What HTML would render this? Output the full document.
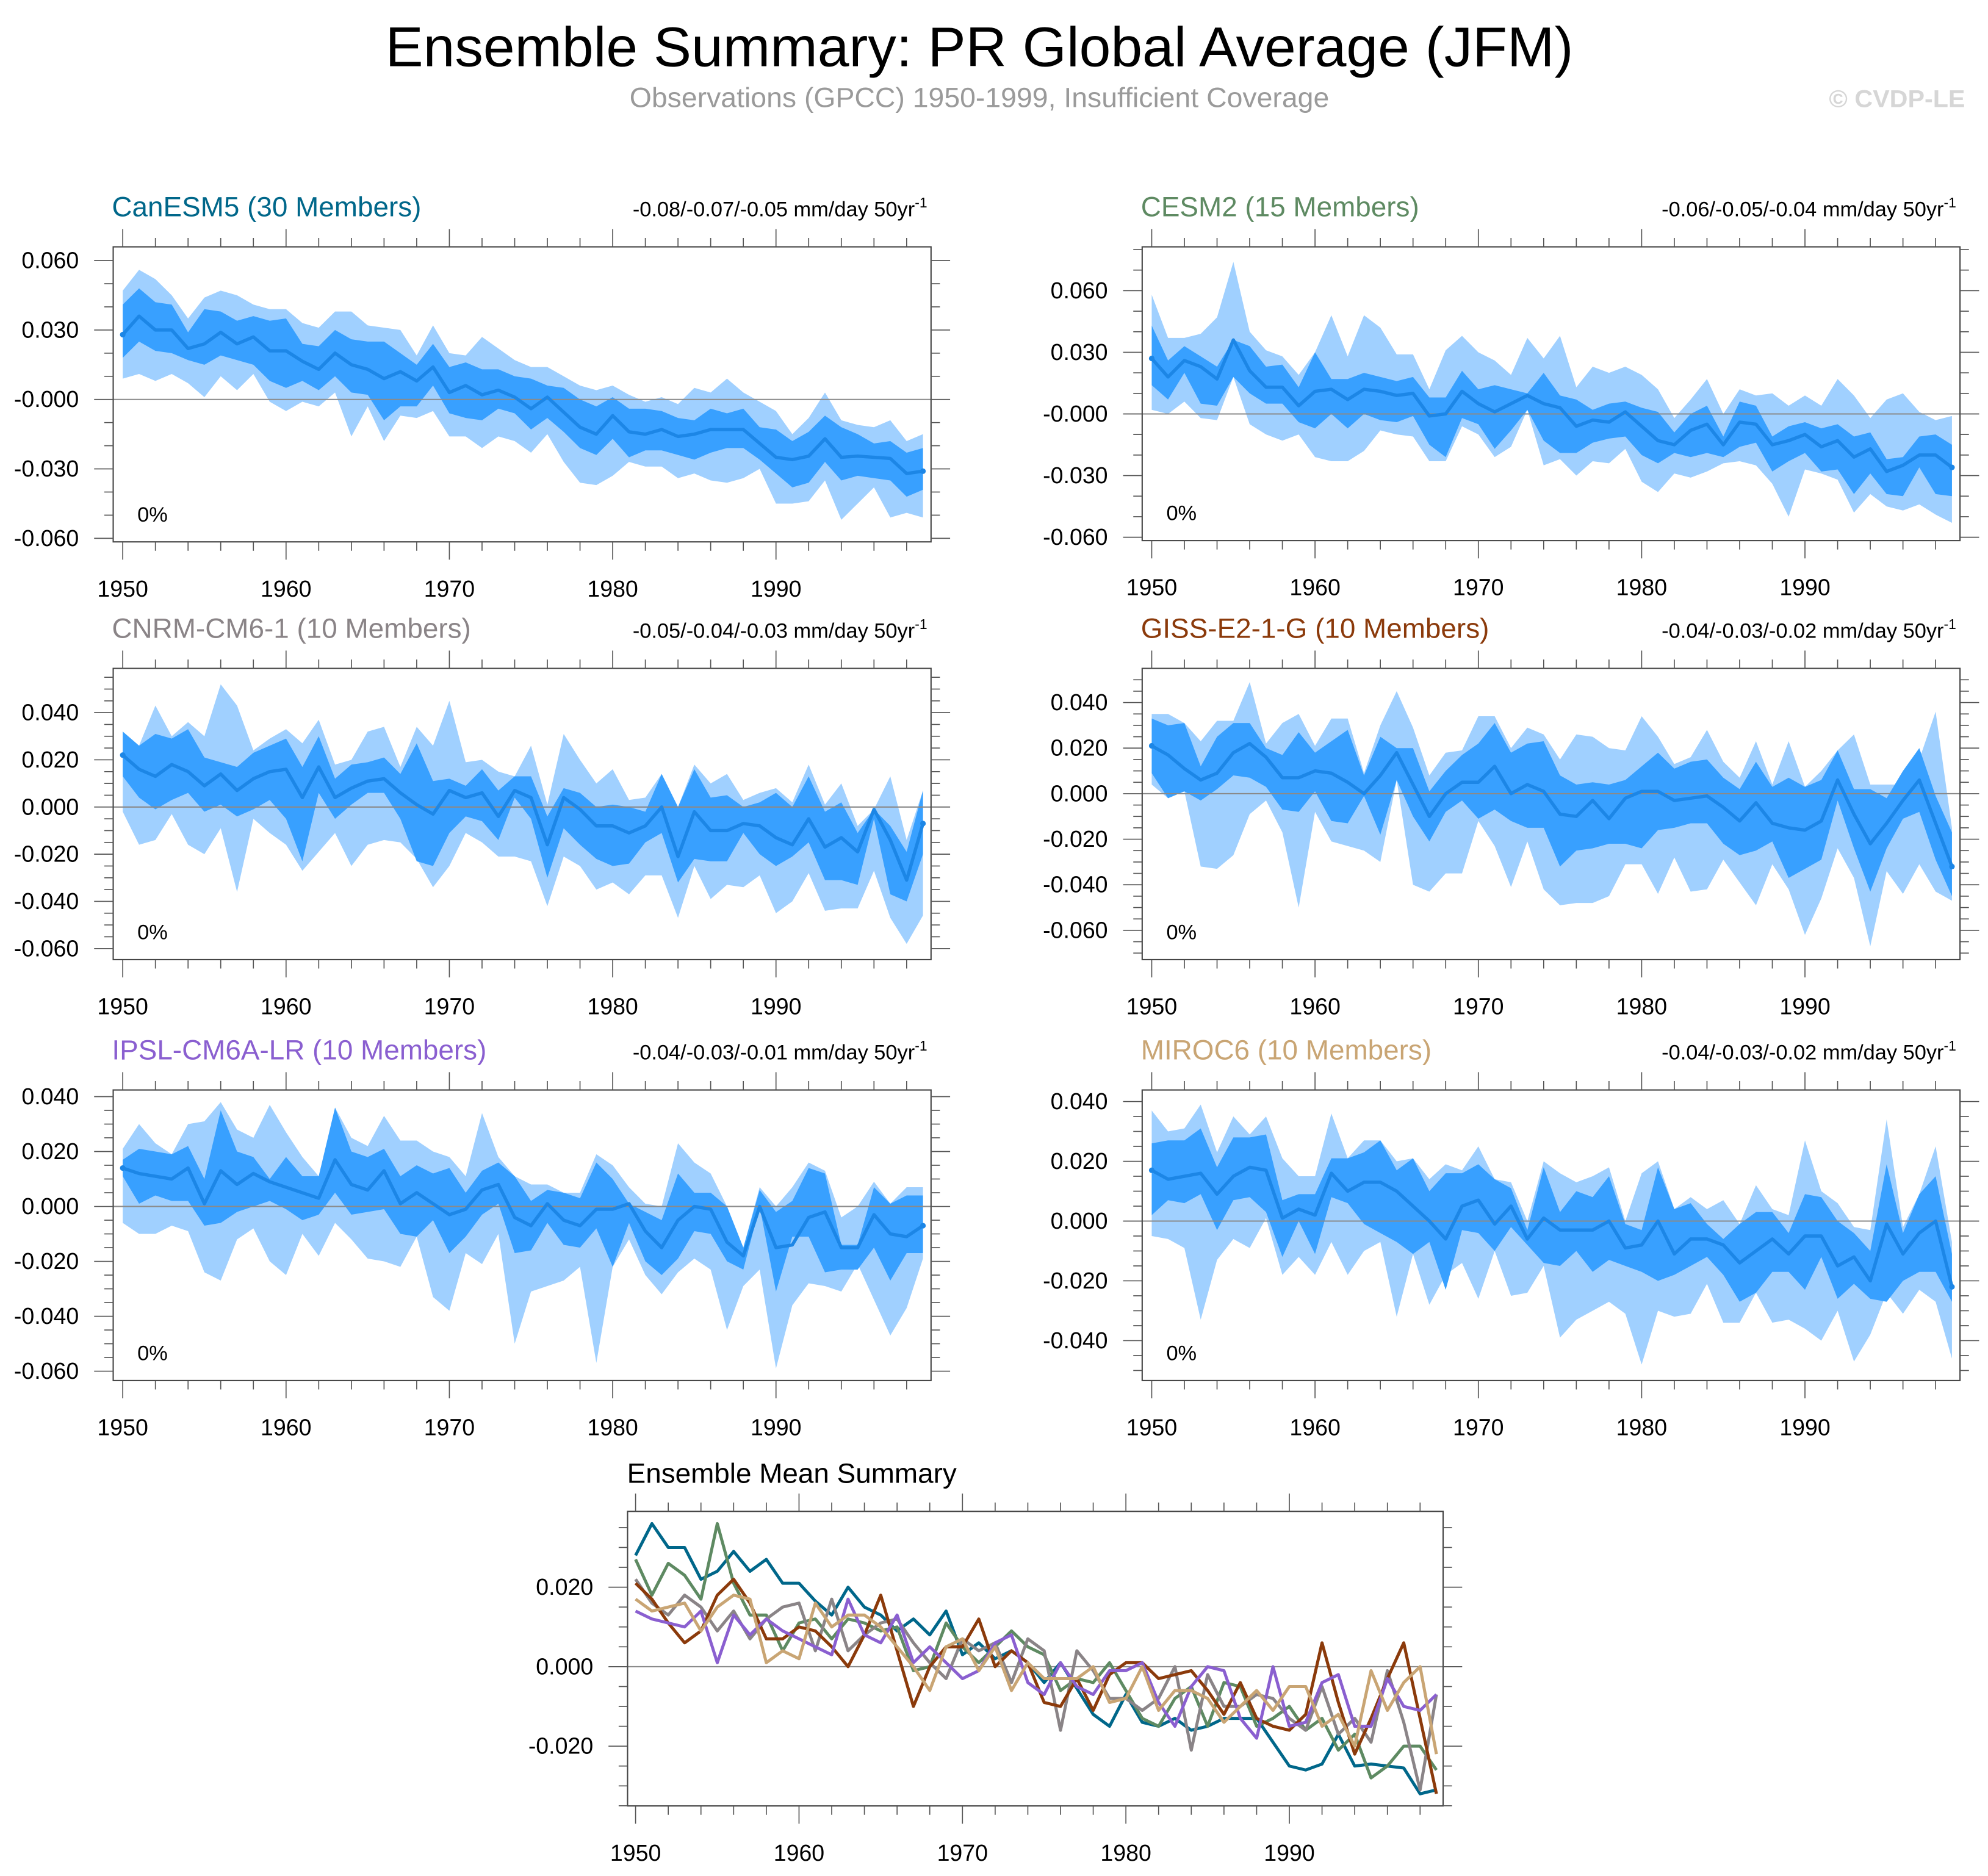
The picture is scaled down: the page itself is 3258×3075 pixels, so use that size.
<!DOCTYPE html>
<html><head><meta charset="utf-8"><title>Ensemble Summary: PR Global Average (JFM)</title>
<style>
html,body{margin:0;padding:0;background:#fff;}
svg{display:block;font-family:"Liberation Sans",Arial,sans-serif;}
</style></head>
<body>
<svg id="chart" xmlns="http://www.w3.org/2000/svg" width="3258" height="3075" viewBox="0 0 1563 1475">
<rect x="0" y="0" width="1563" height="1475" fill="#ffffff"/>
<text x="770" y="52" text-anchor="middle" font-size="44" textLength="934" lengthAdjust="spacingAndGlyphs" fill="#000">Ensemble Summary: PR Global Average (JFM)</text>
<text x="770" y="84" text-anchor="middle" font-size="22" textLength="550" lengthAdjust="spacingAndGlyphs" fill="#9a9a9a">Observations (GPCC) 1950-1999, Insufficient Coverage</text>
<text x="1545" y="84" text-anchor="end" font-size="19" textLength="107" lengthAdjust="spacingAndGlyphs" font-weight="bold" fill="#d6d6d6">© CVDP-LE</text>
<g id="panels"></g>
</svg>
<script>
// values in units of 0.001 mm/day
const years = [1950,1951,1952,1953,1954,1955,1956,1957,1958,1959,1960,1961,1962,1963,1964,1965,1966,1967,1968,1969,1970,1971,1972,1973,1974,1975,1976,1977,1978,1979,1980,1981,1982,1983,1984,1985,1986,1987,1988,1989,1990,1991,1992,1993,1994,1995,1996,1997,1998,1999];
const xTickYears = [1950,1960,1970,1980,1990];
const xTickLabels = ["1950","1960","1970","1980","1990"];

const canesm5Mean = [28,36,30,30,22,24,29,24,27,21,21,16.5,13,20,15,13,9,12,8,14,3,6,2,4,1,-4,1,-5.5,-12,-15,-7,-14,-15,-13,-16,-15,-13,-13,-13,-19,-25,-26,-24.5,-17,-25,-24.5,-25,-25.5,-32,-31];
const canesm5InnerHi = [41,48,42,41,29,39,38,34,36,34,35,24,23,30,26,25,25,20,15,24,14,16,13,13,10,9,6,5,0,-3,1,-4,-4,-5,-8,-9,-4,-6,-4,-12,-13,-18,-14,-7,-12,-15,-19,-18,-23,-21];
const canesm5InnerLo = [18,25,21,20,17,15,19,17,15,8,5,8,4,10,3,2,-9,-3,-3,6,-6,-8,-9,-4,-6,-13,-8,-14,-21,-24,-17,-25,-22,-22,-24,-26,-23,-21,-21,-26,-32,-38,-36,-27,-35,-33,-34,-35,-42,-39];
const canesm5OuterHi = [47,56,52,45,35,44,47,45,41,39,39,33,31,38,38,32,31,30,19,32,20,19,27,22,17,14,14,10,6,4,6,2,-1,1,-2,5,3,9,3,-1,-5,-15,-8,3,-9,-11,-12,-9,-18,-15];
const canesm5OuterLo = [9,11,8,11,7,1,10,4,11,-1,-5,-1,-3,3,-16,-3,-18,-7,-8,-5,-16,-16,-21,-16,-18,-23,-15,-27,-36,-37,-33,-27,-29,-29,-34,-32,-35,-36,-34,-30,-45,-45,-44,-35,-52,-45,-38,-51,-49,-51];

const cesm2Mean = [27,18,26,23,17,36,21,13,13,4,11,12,7,12,11,9,10,-1,0,11,5,1,5,9,5,3,-6,-3,-4,1,-6,-13,-15,-8,-5,-15,-4,-5,-15,-13,-10,-16,-13,-21,-17,-28,-25,-20,-20,-26];
const cesm2InnerHi = [43,26,33,28,23,36,33,23,24,13,30,17,17,20,18,16,18,8,8,21,12,14,12,10,20,9,7,2,5,6,3,1,-9,0,4,-11,6,4,-11,-6,-4,-7,-5,-11,-9,-22,-21,-11,-10,-15];
const cesm2InnerLo = [14,7,20,5,4,18,10,5,5,-4,-7,0,-7,0,-3,-4,-1,-15,-21,-2,-5,-17,-8,2,-13,-19,-19,-14,-12,-11,-20,-24,-19,-21,-19,-21,-16,-14,-28,-23,-19,-28,-27,-39,-29,-39,-40,-26,-39,-40];
const cesm2OuterHi = [58,37,37,39,47,74,40,31,28,19,30,48,28,48,42,29,29,12,31,38,30,26,19,37,27,38,13,23,20,23,19,12,-2,7,17,0,12,9,10,4,9,4,17,9,-2,7,10,1,-3,-1];
const cesm2OuterLo = [2,0,6,-2,-3,18,-5,-10,-13,-10,-21,-23,-23,-18,-8,-10,-11,-23,-23,-6,-10,-21,-16,2,-25,-22,-30,-23,-24,-17,-33,-38,-29,-31,-28,-24,-23,-25,-34,-50,-27,-29,-32,-48,-39,-45,-47,-44,-49,-53];

const cnrmMean = [22,16,13,18,15,9,14,7,12,15,16,4,17,4,8,11,12,6,1,-3,7,4,6,-4,7,4,-16,4,-1,-8,-8,-11,-8,0,-21,-2,-10,-10,-7,-8,-13,-16,-5,-17,-13,-19,-1,-14,-31,-7];
const cnrmInnerHi = [32,26,31,29,33,21,19,17,23,26,29,17,30,12,18,19,21,14,27,11,12,9,16,7,13,13,-4,8,6,0,1,0,-2,14,0,16,4,5,0,2,6,0,13,-2,2,-11,-1,-8,-19,7];
const cnrmInnerLo = [13,4,-1,3,6,-2,1,-4,-1,3,-5,-23,6,-5,1,6,6,-5,-23,-25,-11,-4,-6,-14,4,-5,-30,-9,-16,-22,-25,-24,-15,-11,-32,-22,-23,-23,-11,-20,-25,-21,-15,-31,-31,-33,-5,-37,-40,-20];
const cnrmOuterHi = [32,26,43,30,36,30,52,43,24,29,33,27,37,18,20,32,34,17,34,26,45,19,20,15,13,26,1,31,20,10,16,3,4,14,0,18,10,14,3,6,8,2,18,1,10,-8,-1,13,-14,7];
const cnrmOuterLo = [-2,-16,-14,-3,-16,-20,-9,-36,-5,-11,-16,-27,-19,-11,-25,-16,-14,-15,-22,-34,-25,-11,-15,-21,-21,-23,-42,-21,-25,-35,-32,-37,-29,-29,-47,-25,-39,-33,-34,-29,-45,-40,-28,-44,-43,-43,-27,-47,-58,-46];

const gissMean = [21,17,11,6,9,18,22,16,7,7,10,9,5,0,8,18,4,-10,0,5,5,12,0,4,1,-9,-10,-3,-11,-2,1,1,-3,-2,-1,-6,-12,-4,-13,-15,-16,-12,6,-9,-22,-13,-3,6,-13,-32];
const gissInnerHi = [33,30,31,12,25,31,31,20,17,27,18,23,28,8,25,20,20,1,10,17,22,31,18,22,23,8,4,5,4,6,12,18,11,14,15,7,2,14,3,7,3,6,19,2,2,-2,10,20,-1,-17];
const gissInnerLo = [9,-2,1,-3,2,8,7,3,-7,-8,1,-12,-13,-1,-18,6,-10,-21,-8,-3,-11,-7,-12,-15,-15,-32,-25,-24,-22,-22,-24,-16,-15,-13,-13,-22,-27,-25,-21,-37,-33,-29,-3,-24,-43,-24,-11,-8,-29,-45];
const gissOuterHi = [35,35,31,23,32,32,49,22,31,35,21,33,33,9,30,45,29,8,18,19,34,34,20,29,26,15,26,25,20,19,34,25,13,16,28,14,7,23,4,23,3,10,19,26,4,4,4,15,36,-15];
const gissOuterLo = [4,-2,1,-32,-33,-27,-9,-3,-17,-50,-8,-21,-23,-25,-30,6,-40,-43,-35,-35,-12,-23,-41,-21,-42,-49,-48,-48,-45,-31,-31,-44,-28,-43,-42,-29,-39,-49,-31,-42,-62,-46,-24,-37,-67,-34,-44,-31,-43,-47];

const ipslMean = [14,12,11,10,14,1,13,8,12,9,7,5,3,17,8,6,13,1,5,1,-3,-1,6,8,-4,-7,1,-5,-7,-1,-1,1,-9,-15,-5,0,-1,-13,-18,0,-15,-14,-4,-2,-15,-15,-3,-10,-11,-7];
const ipslInnerHi = [17,21,20,19,22,10,35,20,18,10,18,11,11,36,20,18,21,11,15,12,14,5,13,16,11,2,6,5,3,16,10,1,-2,-5,12,5,5,0,-15,6,-2,2,14,12,-14,-14,7,1,4,4];
const ipslInnerLo = [11,1,4,2,2,-7,-6,-2,0,2,-1,-5,-3,5,-3,-2,-1,-10,-11,-5,-17,-11,-3,1,-17,-16,-6,-14,-15,-8,-22,-6,-20,-25,-19,-9,-10,-20,-23,0,-31,-11,-11,-24,-23,-23,-15,-27,-17,-17];
const ipslOuterHi = [21,30,23,19,30,31,38,28,25,37,27,18,11,36,25,22,33,24,24,20,18,11,34,18,11,8,8,5,5,19,15,7,1,0,23,16,12,0,-15,7,0,7,16,13,-4,0,9,1,7,7];
const ipslOuterLo = [-6,-10,-10,-7,-9,-24,-27,-12,-8,-20,-25,-10,-18,-6,-12,-19,-20,-22,-11,-33,-38,-17,-21,-10,-50,-31,-29,-27,-22,-57,-22,-12,-25,-32,-24,-19,-23,-45,-29,-23,-59,-36,-28,-29,-31,-21,-34,-47,-37,-19];

const mirocMean = [17,14,15,16,9,15,18,17,1,4,2,16,10,13,13,10,5,0,-6,5,7,-1,5,-6,1,-3,-3,-3,0,-9,-8,0,-11,-6,-6,-8,-14,-10,-6,-11,-5,-5,-15,-12,-20,-1,-11,-4,0,-22];
const mirocInnerHi = [26,27,27,31,18,28,28,29,7,9,9,21,21,23,27,17,21,10,16,16,19,14,11,-3,18,3,10,8,15,-1,-3,18,4,6,-1,-6,-1,3,3,-4,9,8,0,-4,-10,19,-4,9,15,-11];
const mirocInnerLo = [2,7,6,9,-3,7,8,3,-12,0,-11,8,6,-1,-4,-7,-11,-7,-23,-3,-4,-10,-2,-8,-14,-15,-10,-17,-13,-15,-17,-20,-18,-15,-12,-18,-27,-24,-17,-17,-23,-12,-26,-21,-26,-27,-20,-17,-17,-27];
const mirocOuterHi = [37,30,31,39,23,35,29,35,21,15,15,36,21,27,27,20,21,14,19,17,25,14,13,0,20,16,13,15,18,0,16,20,4,8,4,7,-1,12,4,2,27,10,6,-2,-3,34,-2,9,25,-7];
const mirocOuterLo = [-5,-6,-9,-33,-13,-6,-9,1,-18,-12,-18,-7,-18,-10,-7,-32,-11,-28,-18,-14,-26,-10,-25,-24,-15,-39,-33,-30,-27,-31,-48,-30,-32,-31,-21,-34,-34,-24,-34,-33,-36,-40,-30,-47,-38,-24,-31,-23,-27,-46];

const modelNames = ["CanESM5 (30 Members)","CESM2 (15 Members)","CNRM-CM6-1 (10 Members)","GISS-E2-1-G (10 Members)","IPSL-CM6A-LR (10 Members)","MIROC6 (10 Members)"];
const trendNotes = ["-0.08/-0.07/-0.05 mm/day 50yr","-0.06/-0.05/-0.04 mm/day 50yr","-0.05/-0.04/-0.03 mm/day 50yr","-0.04/-0.03/-0.02 mm/day 50yr","-0.04/-0.03/-0.01 mm/day 50yr","-0.04/-0.03/-0.02 mm/day 50yr"];
const yTicksA = [0.06,0.03,0,-0.03,-0.06];
const yTickLabelsA = ["0.060","0.030","-0.000","-0.030","-0.060"];
const yTicksB = [0.04,0.02,0,-0.02,-0.04,-0.06];
const yTickLabelsB = ["0.040","0.020","0.000","-0.020","-0.040","-0.060"];
const yTicksC = [0.04,0.02,0,-0.02,-0.04];
const yTickLabelsC = ["0.040","0.020","0.000","-0.020","-0.040"];
const yTicksMean = [0.02,0,-0.02];
const yTickLabelsMean = ["0.020","0.000","-0.020"];

const modelColors = ["#00678a","#5e8a62","#8a8487","#8b3a0b","#8a5fd0","#c9a574"];

const NS = "http://www.w3.org/2000/svg";
const root = document.getElementById("panels");
function mk(tag, attrs, parent){
  const e = document.createElementNS(NS, tag);
  for (const k in attrs) e.setAttribute(k, attrs[k]);
  (parent || root).appendChild(e);
  return e;
}

const layouts = [
  {left:89, right:732, top:194, bottom:426, zeroY:314.0, ppu:1820, minor:0.01, ticks:yTicksA, labels:yTickLabelsA},
  {left:898, right:1541, top:194, bottom:425, zeroY:325.4, ppu:1616, minor:0.01, ticks:yTicksA, labels:yTickLabelsA},
  {left:89, right:732, top:525.5, bottom:754.5, zeroY:634.5, ppu:1855, minor:0.005, ticks:yTicksB, labels:yTickLabelsB},
  {left:898, right:1541, top:525.5, bottom:754.5, zeroY:624, ppu:1791, minor:0.005, ticks:yTicksB, labels:yTickLabelsB},
  {left:89, right:732, top:857, bottom:1085.5, zeroY:948.6, ppu:2159, minor:0.005, ticks:yTicksB, labels:yTickLabelsB},
  {left:898, right:1541, top:857, bottom:1085.5, zeroY:960.1, ppu:2350, minor:0.005, ticks:yTicksC, labels:yTickLabelsC}
];
const series = [
  [canesm5Mean,canesm5InnerHi,canesm5InnerLo,canesm5OuterHi,canesm5OuterLo],
  [cesm2Mean,cesm2InnerHi,cesm2InnerLo,cesm2OuterHi,cesm2OuterLo],
  [cnrmMean,cnrmInnerHi,cnrmInnerLo,cnrmOuterHi,cnrmOuterLo],
  [gissMean,gissInnerHi,gissInnerLo,gissOuterHi,gissOuterLo],
  [ipslMean,ipslInnerHi,ipslInnerLo,ipslOuterHi,ipslOuterLo],
  [mirocMean,mirocInnerHi,mirocInnerLo,mirocOuterHi,mirocOuterLo]
];

function drawAxes(g, L, xOf, yOf){
  const box = mk("rect",{x:L.left,y:L.top,width:L.right-L.left,height:L.bottom-L.top,fill:"none",stroke:"#444","stroke-width":1},g);
  
  
  for (let yr = years[0]; yr <= years[years.length-1]; yr += 2) {
    const major = xTickYears.indexOf(yr) >= 0;
    const len = major ? 14 : 7;
    const x = xOf(yr);
    const t1 = mk("line",{x1:x,x2:x,y1:L.top,y2:L.top-len,stroke:"#555","stroke-width":0.8},g);
    
    
    const t2 = mk("line",{x1:x,x2:x,y1:L.bottom,y2:L.bottom+len,stroke:"#555","stroke-width":0.8},g);
    
    
  }
  xTickYears.forEach((yr,i)=>{
    const t = mk("text",{x:xOf(yr),y:L.bottom+43,"text-anchor":"middle","font-size":18,fill:"#000"},g);
    t.textContent = xTickLabels[i];
    
    
  });
  const vTop = (L.zeroY - L.top)/L.ppu, vBot = (L.zeroY - L.bottom)/L.ppu;
  for (let k = Math.ceil(vBot/L.minor - 1e-6); k*L.minor <= vTop + 1e-9; k++) {
    const v = k*L.minor, y = yOf(v);
    const major = L.ticks.some(t => Math.abs(t - v) < 1e-6);
    const len = major ? 15 : 7;
    const a = mk("line",{x1:L.left,x2:L.left-len,y1:y,y2:y,stroke:"#555","stroke-width":0.8},g);
    
    
    const b = mk("line",{x1:L.right,x2:L.right+len,y1:y,y2:y,stroke:"#555","stroke-width":0.8},g);
    
    
  }
  L.ticks.forEach((v,i)=>{
    const t = mk("text",{x:L.left-27,y:yOf(v)+6,"text-anchor":"end","font-size":18,fill:"#000"},g);
    t.textContent = L.labels[i];
    
    
  });
}

function pts(arr, xOf, yOf){ return arr.map((v,i)=> xOf(years[i]).toFixed(2)+","+yOf(v/1000).toFixed(2)); }

layouts.forEach((L, p)=>{
  const g = mk("g",{});
  
  
  const x0 = L.left + 7.5, step = 12.84;
  const xOf = yr => x0 + (yr - years[0]) * step;
  const yOf = v => L.zeroY - v * L.ppu;
  const [mean, iHi, iLo, oHi, oLo] = series[p];

  const outer = mk("polygon",{points: pts(oHi,xOf,yOf).concat(pts(oLo,xOf,yOf).reverse()).join(" "), fill:"#a0d0ff", stroke:"none"},g);
  
  
  const inner = mk("polygon",{points: pts(iHi,xOf,yOf).concat(pts(iLo,xOf,yOf).reverse()).join(" "), fill:"#38a0ff", stroke:"none"},g);
  
  
  const zl = mk("line",{x1:L.left,x2:L.right,y1:yOf(0),y2:yOf(0),stroke:"#8a8a8a","stroke-width":1},g);
  
  
  const ml = mk("polyline",{points: pts(mean,xOf,yOf).join(" "), fill:"none", stroke:"#1c86e6","stroke-width":2.6,"stroke-linejoin":"round"},g);
  
  
  [0, mean.length-1].forEach(i=>{
    const d = mk("circle",{cx:xOf(years[i]),cy:yOf(mean[i]/1000),r:2.2,fill:"#1c86e6"},g);
    
    
  });
  drawAxes(g, L, xOf, yOf);

  const tt = mk("text",{x:L.left-1,y:L.top-24,"font-size":22,fill:modelColors[p]},g);
  tt.textContent = modelNames[p];
  
  
  const nt = mk("text",{x:L.right-3,y:L.top-24,"text-anchor":"end","font-size":16.5,fill:"#000"},g);
  
  
  const s1 = mk("tspan",{},nt); s1.textContent = trendNotes[p];
  
  
  const s2 = mk("tspan",{"font-size":11,dy:-7},nt); s2.textContent = "-1";
  
  
  const pc = mk("text",{x:L.left+19,y:L.bottom-16,"font-size":16.5,fill:"#000"},g);
  pc.textContent = "0%";
  
  
});

(function(){
  const L = {left:493.4, right:1134.6, top:1188.4, bottom:1420, zeroY:1310.5, ppu:3125, minor:0.005, ticks:yTicksMean, labels:yTickLabelsMean};
  const g = mk("g",{});
  
  
  const xOf = yr => 499.7 + (yr - years[0]) * 12.85;
  const yOf = v => L.zeroY - v * L.ppu;
  const zl = mk("line",{x1:L.left,x2:L.right,y1:yOf(0),y2:yOf(0),stroke:"#8a8a8a","stroke-width":1},g);
  
  
  series.forEach((s,p)=>{
    const pl = mk("polyline",{points: pts(s[0],xOf,yOf).join(" "), fill:"none", stroke:modelColors[p],"stroke-width":2.4,"stroke-linejoin":"round"},g);
    
    
  });
  drawAxes(g, L, xOf, yOf);
  const tt = mk("text",{x:493,y:1166,"font-size":22,fill:"#000"},g);
  tt.textContent = "Ensemble Mean Summary";
  
  
})();
</script>
</body></html>
